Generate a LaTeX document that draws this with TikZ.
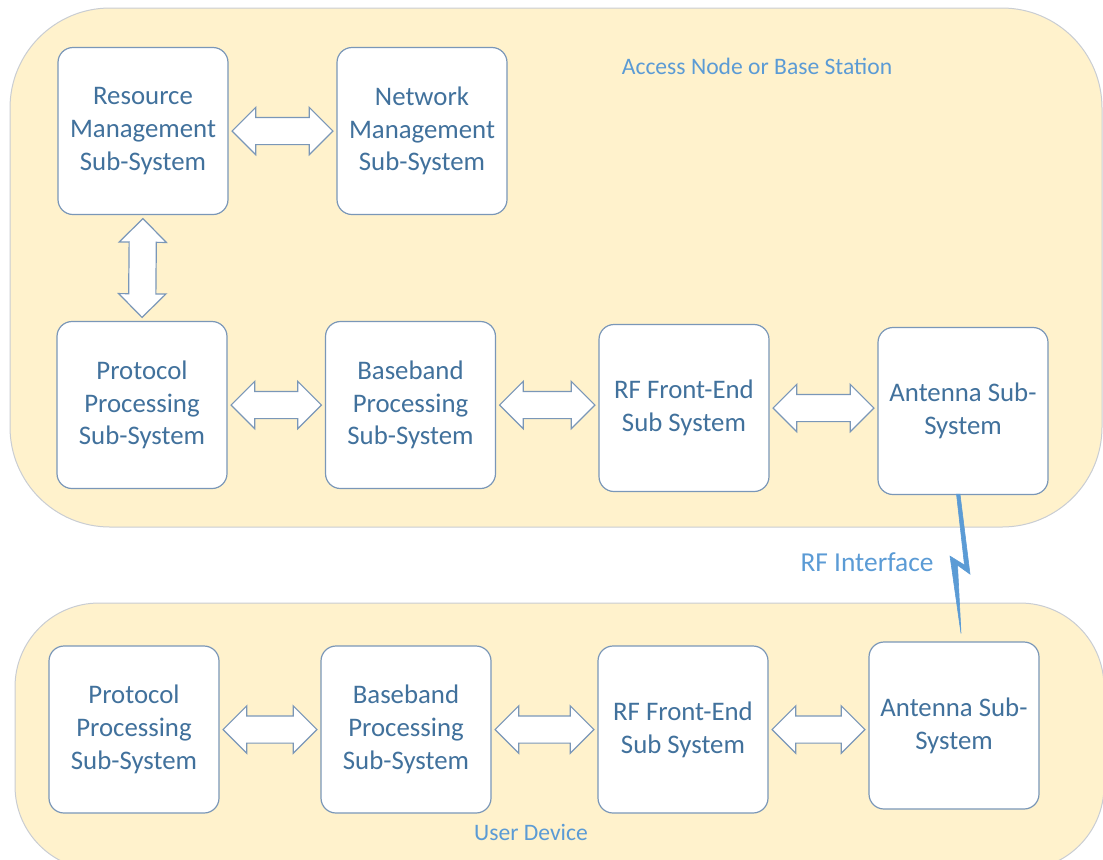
\documentclass[tikz,border=0pt]{standalone}
\usepackage{fontspec}
\setmainfont{Carlito}
\usetikzlibrary{shapes.arrows,calc}

\definecolor{blockfill}{HTML}{FFF2CC}
\definecolor{blockline}{HTML}{C9CDD3}
\definecolor{boxline}{HTML}{7A97B8}
\definecolor{boxtext}{HTML}{41719C}
\definecolor{labeltext}{HTML}{5B9BD5}

\tikzset{
  block/.style={fill=blockfill, draw=blockline, line width=0.5pt},
  subsys/.style={draw=boxline, line width=0.6pt, fill=white, rounded corners=7.5pt,
    minimum width=85pt, minimum height=83.5pt, align=center, text=boxtext,
    font=\fontsize{13.4}{16.4}\selectfont},
  dblarrow/.style={double arrow, draw=boxline, fill=white, line width=0.6pt,
    inner xsep=0pt, inner ysep=6.5pt, double arrow head extend=5pt},
  tag/.style={text=labeltext, font=\fontsize{11.8}{14}\selectfont},
  bolt/.style={fill=labeltext, draw=labeltext, line width=0.3pt, line join=miter},
}

% hollow two-way arrow between two points
\newcommand\twoway[2]{%
  \path let \p1=(#1), \p2=(#2) in
    node[dblarrow, minimum height={veclen(\x2-\x1,\y2-\y1)-3.5},
      rotate={atan2(\y2-\y1,\x2-\x1)}] at ($(\p1)!0.5!(\p2)$) {};}

\begin{document}
\begin{tikzpicture}[x=0.5pt,y=-0.5pt]
  \clip (0,0) rectangle (1103,859);

  % access node and user device areas
  \draw[block, rounded corners=50pt] (10,8) rectangle (1102,527);
  \draw[block, rounded corners=42pt] (15,603) rectangle (1104,870);

  % access node sub-systems
  \node[subsys] (res)  at (143,131) {Resource\\Management\\Sub-System};
  \node[subsys] (net)  at (422,131) {Network\\Management\\Sub-System};
  \node[subsys] (pro1) at (142,405) {Protocol\\Processing\\Sub-System};
  \node[subsys] (bb1)  at (410.5,405) {Baseband\\Processing\\Sub-System};
  \node[subsys] (rf1)  at (684,408) {RF Front-End\\Sub System};
  \node[subsys] (ant1) at (963,411) {Antenna Sub-\\System};

  % user device sub-systems
  \node[subsys] (pro2) at (134,729.5) {Protocol\\Processing\\Sub-System};
  \node[subsys] (bb2)  at (406,729.5) {Baseband\\Processing\\Sub-System};
  \node[subsys] (rf2)  at (683,729.5) {RF Front-End\\Sub System};
  \node[subsys] (ant2) at (954,725.5) {Antenna Sub-\\System};

  \foreach \a/\b in {res/net, pro1/bb1, bb1/rf1, rf1/ant1, pro2/bb2, bb2/rf2, rf2/ant2}
    \twoway{\a.east}{\b.west |- \a.east};
  \twoway{res.south}{pro1.north};

  \node[tag] (apname) at (757,66) {Access Node or Base Station};
  \node[tag] (udname) at (531,832) {User Device};
  \node[tag, font=\fontsize{13.7}{16}\selectfont] (rfif) at (867,562) {RF Interface};

  % radio link
  \fill[bolt] ($(ant1.south)+(-6.5,-1)$) -- ($(ant1.south)+(-3,-1)$)
    -- ($(ant1.south)+(7,79)$) -- ($(ant1.south)+(-5.5,70)$)
    -- ($(ant2.north)+(7,-8)$) -- ($(ant1.south)+(-13,61)$)
    -- ($(ant1.south)+(1.5,70)$) -- cycle;
\end{tikzpicture}
\end{document}
